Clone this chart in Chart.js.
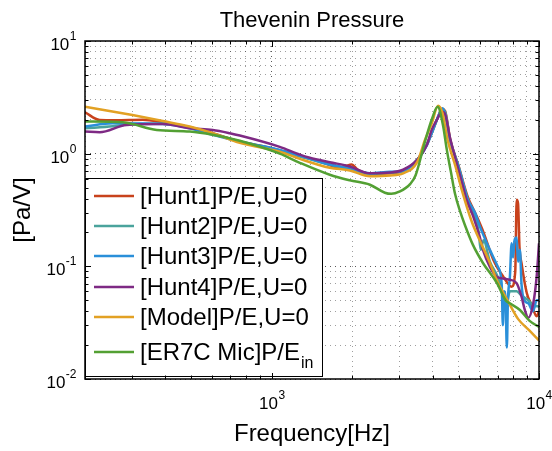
<!DOCTYPE html>
<html>
<head>
<meta charset="utf-8">
<script src="https://cdn.jsdelivr.net/npm/chart.js@4/dist/chart.umd.min.js"></script>
<style>
  html, body { margin: 0; padding: 0; background: #fff; }
  canvas { display: block; }
</style>
</head>
<body>
<canvas id="chart" width="552" height="451"></canvas>
<script>
// values (Hz, Pa/V)
const hunt1Freq = [200, 227, 260, 329, 391, 493, 601, 759, 900, 1071, 1273, 1500, 1800, 1900, 1990, 2100, 2330, 2770, 3100, 3500, 3800, 4000, 4200, 4330, 4450, 4650, 5000, 5400, 5800, 6200, 6750, 7350, 7900, 8150, 8250, 8350, 8450, 8600, 9000, 9400, 9800, 10000];
const hunt1Vals = [2.33, 1.99, 1.98, 2.0, 1.9, 1.72, 1.52, 1.28, 1.18, 1.07, 0.95, 0.86, 0.75, 0.78, 0.80, 0.72, 0.66, 0.67, 0.70, 0.88, 1.2, 1.6, 2.15, 2.5, 2.4, 1.35, 0.78, 0.42, 0.29, 0.20, 0.114, 0.081, 0.066, 0.09, 0.39, 0.36, 0.15, 0.107, 0.058, 0.045, 0.036, 0.04];

const hunt2Freq = [200, 254, 301, 391, 493, 601, 759, 1071, 1273, 1648, 1959, 2330, 2770, 3100, 3500, 3800, 4000, 4200, 4330, 4450, 4650, 5000, 5400, 5756, 5950, 6050, 6200, 6550, 7015, 7350, 7500, 7780, 8245, 8600, 9120, 9500, 10000];
const hunt2Vals = [1.68, 1.75, 1.83, 1.85, 1.70, 1.50, 1.28, 1.07, 0.95, 0.80, 0.73, 0.66, 0.68, 0.70, 0.88, 1.2, 1.6, 2.15, 2.45, 2.35, 1.32, 0.77, 0.40, 0.28, 0.20, 0.14, 0.17, 0.11, 0.08, 0.055, 0.042, 0.06, 0.06, 0.055, 0.05, 0.045, 0.044];

const hunt3Freq = [200, 254, 391, 493, 601, 759, 1071, 1273, 1648, 1959, 2330, 2770, 3100, 3500, 3800, 4000, 4200, 4360, 4645, 4990, 5285, 5420, 5756, 6010, 6550, 7015, 7250, 7325, 7400, 7500, 7580, 7650, 7780, 7900, 8000, 8100, 8245, 8350, 8485, 8600, 8800, 9120, 9500, 9800, 10000];
const hunt3Vals = [1.74, 1.86, 1.83, 1.68, 1.47, 1.28, 1.08, 0.96, 0.80, 0.74, 0.67, 0.69, 0.70, 0.88, 1.18, 1.6, 2.15, 2.53, 1.32, 0.77, 0.47, 0.388, 0.30, 0.225, 0.14, 0.099, 0.07, 0.03, 0.06, 0.05, 0.019, 0.05, 0.08, 0.16, 0.12, 0.17, 0.18, 0.11, 0.14, 0.07, 0.05, 0.047, 0.04, 0.05, 0.05];

const hunt4Freq = [200, 227, 286, 391, 493, 601, 696, 759, 1071, 1273, 1388, 1648, 1959, 2330, 2770, 3100, 3500, 3808, 3963, 4150, 4330, 4450, 4640, 4900, 5150, 5360, 5680, 6010, 6170, 6550, 6940, 7350, 7780, 8245, 8600, 8850, 9120, 9520, 9800, 10000];
const hunt4Vals = [1.57, 1.55, 1.80, 1.83, 1.68, 1.62, 1.52, 1.45, 1.15, 0.98, 0.92, 0.84, 0.77, 0.67, 0.68, 0.72, 0.88, 1.2, 1.62, 2.0, 2.36, 2.25, 1.4, 0.85, 0.55, 0.388, 0.275, 0.18, 0.14, 0.099, 0.081, 0.078, 0.076, 0.071, 0.054, 0.041, 0.035, 0.047, 0.081, 0.16];

const modelFreq = [200, 301, 391, 493, 601, 759, 1071, 1273, 1648, 1959, 2330, 2770, 3100, 3500, 3740, 3970, 4190, 4350, 4550, 4870, 5150, 5600, 6000, 6480, 7030, 7620, 8360, 9200, 10000];
const modelVals = [2.61, 2.2, 1.95, 1.74, 1.52, 1.25, 1.04, 0.90, 0.75, 0.71, 0.63, 0.64, 0.67, 0.84, 1.32, 1.86, 2.66, 2.3, 1.32, 0.77, 0.47, 0.25, 0.17, 0.114, 0.071, 0.05, 0.034, 0.027, 0.022];

const micFreq = [200, 277, 371, 493, 601, 759, 1071, 1273, 1648, 1959, 2330, 2650, 2800, 3000, 3300, 3450, 3750, 3963, 4176, 4370, 4520, 4680, 4850, 5060, 5280, 5660, 6170, 6960, 7500, 7780, 8485, 9200, 10000];
const micVals = [1.93, 1.9, 1.62, 1.57, 1.47, 1.30, 1.0, 0.83, 0.65, 0.58, 0.53, 0.45, 0.44, 0.46, 0.54, 0.64, 1.3, 1.99, 2.61, 1.8, 1.08, 0.69, 0.44, 0.31, 0.233, 0.155, 0.107, 0.071, 0.05, 0.047, 0.041, 0.033, 0.029];

const seriesNames = ['[Hunt1]P/E,U=0', '[Hunt2]P/E,U=0', '[Hunt3]P/E,U=0', '[Hunt4]P/E,U=0', '[Model]P/E,U=0', '[ER7C Mic]P/E'];
const seriesColors = ['#c8421c', '#4aa39c', '#2a8fd9', '#7e2a84', '#e2a124', '#53a033'];

const xGrid = [200, 300, 400, 500, 600, 700, 800, 900, 1000, 2000, 3000, 4000, 5000, 6000, 7000, 8000, 9000, 10000];
const yGrid = [0.01, 0.02, 0.03, 0.04, 0.05, 0.06, 0.07, 0.08, 0.09, 0.1, 0.2, 0.3, 0.4, 0.5, 0.6, 0.7, 0.8, 0.9, 1, 2, 3, 4, 5, 6, 7, 8, 9, 10];
const xLabelPowers = [3, 4];
const yLabelPowers = [1, 0, -1, -2];

const pts = (fs, vs) => fs.map((f, i) => ({ x: f, y: vs[i] }));
const allData = [
  pts(hunt1Freq, hunt1Vals),
  pts(hunt2Freq, hunt2Vals),
  pts(hunt3Freq, hunt3Vals),
  pts(hunt4Freq, hunt4Vals),
  pts(modelFreq, modelVals),
  pts(micFreq, micVals),
];

const isMajor = v => Math.abs(Math.log10(v) - Math.round(Math.log10(v))) < 1e-9;
const FONT = '"Liberation Sans", Arial, Helvetica, sans-serif';

function drawPow(ctx, exp, x, baseY, align) {
  const base = '10', sup = String(exp);
  ctx.font = '17px ' + FONT;
  const wb = ctx.measureText(base).width;
  ctx.font = '12px ' + FONT;
  const ws = ctx.measureText(sup).width;
  const total = wb + ws;
  const x0 = align === 'right' ? x - total : x - total / 2;
  ctx.textAlign = 'left';
  ctx.textBaseline = 'alphabetic';
  ctx.font = '17px ' + FONT;
  ctx.fillText(base, x0, baseY);
  ctx.font = '12px ' + FONT;
  ctx.fillText(sup, x0 + wb + 0.5, baseY - 10);
}

const decor = {
  id: 'decor',
  afterDatasetsDraw(chart) {
    const { ctx, chartArea: a, scales: { x, y } } = chart;
    ctx.save();

    // legend box
    const lx = a.left, ly = 178, lw = 237, lh = 198;
    ctx.fillStyle = '#fff';
    ctx.fillRect(lx, ly, lw, lh);
    ctx.strokeStyle = '#000';
    ctx.lineWidth = 1;
    ctx.strokeRect(lx + 0.5, ly + 0.5, lw, lh);
    const rows = [196, 226, 256, 287, 317, 352];
    seriesNames.forEach((name, i) => {
      ctx.strokeStyle = seriesColors[i];
      ctx.lineWidth = 2.5;
      ctx.beginPath();
      ctx.moveTo(94, rows[i]);
      ctx.lineTo(134, rows[i]);
      ctx.stroke();
      ctx.fillStyle = '#000';
      ctx.font = '24px ' + FONT;
      ctx.textAlign = 'left';
      ctx.textBaseline = 'middle';
      ctx.fillText(name, 140, rows[i] + 1);
      if (i === 5) {
        const w = ctx.measureText(name).width;
        ctx.font = '16px ' + FONT;
        ctx.fillText('in', 140 + w + 1, rows[i] + 12);
      }
    });

    // tick marks inside the box
    ctx.strokeStyle = '#000';
    ctx.lineWidth = 1;
    ctx.beginPath();
    xGrid.forEach(v => {
      const px = Math.round(x.getPixelForValue(v)) + 0.5;
      const len = isMajor(v) ? 6 : 3.5;
      ctx.moveTo(px, a.bottom); ctx.lineTo(px, a.bottom - len);
      ctx.moveTo(px, a.top); ctx.lineTo(px, a.top + len);
    });
    yGrid.forEach(v => {
      const py = Math.round(y.getPixelForValue(v)) + 0.5;
      const len = isMajor(v) ? 6 : 3.5;
      ctx.moveTo(a.left, py); ctx.lineTo(a.left + len, py);
      ctx.moveTo(a.right, py); ctx.lineTo(a.right - len, py);
    });
    ctx.stroke();

    // axes box
    ctx.lineWidth = 1.5;
    ctx.strokeRect(a.left, a.top, a.right - a.left, a.bottom - a.top);

    // tick labels
    ctx.fillStyle = '#000';
    xLabelPowers.forEach(p => drawPow(ctx, p, x.getPixelForValue(Math.pow(10, p)), a.bottom + 30, 'center'));
    yLabelPowers.forEach(p => drawPow(ctx, p, 76, y.getPixelForValue(Math.pow(10, p)) + 9, 'right'));

    // title and axis titles
    ctx.textAlign = 'center';
    ctx.textBaseline = 'alphabetic';
    ctx.font = '22px ' + FONT;
    ctx.fillText('Thevenin Pressure', (a.left + a.right) / 2, 27);
    ctx.font = '24px ' + FONT;
    ctx.fillText('Frequency[Hz]', (a.left + a.right) / 2, 441);
    ctx.save();
    ctx.translate(30, (a.top + a.bottom) / 2);
    ctx.rotate(-Math.PI / 2);
    ctx.fillText('[Pa/V]', 0, 0);
    ctx.restore();

    ctx.restore();
  }
};

const gridColor = c => isMajor(c.tick.value) ? 'rgba(0,0,0,0.65)' : 'rgba(0,0,0,0.38)';

new Chart(document.getElementById('chart').getContext('2d'), {
  type: 'line',
  data: {
    datasets: allData.map((d, i) => ({
      label: seriesNames[i],
      data: d,
      borderColor: seriesColors[i],
      borderWidth: 2.5,
      pointRadius: 0,
      fill: false,
      cubicInterpolationMode: 'monotone',
      order: 6 - i,
    })),
  },
  options: {
    responsive: false,
    devicePixelRatio: 1,
    animation: false,
    layout: { padding: { top: 41, right: 13, left: 0, bottom: 0 } },
    plugins: {
      legend: { display: false },
      title: { display: false },
      tooltip: { enabled: false },
    },
    scales: {
      x: {
        type: 'logarithmic',
        min: 200,
        max: 10000,
        afterBuildTicks: s => { s.ticks = xGrid.map(v => ({ value: v })); },
        afterFit: s => { s.height = 72; },
        ticks: { display: false },
        grid: { color: gridColor, lineWidth: 1, drawTicks: false },
        border: { display: false, dash: [1, 4] },
      },
      y: {
        type: 'logarithmic',
        min: 0.01,
        max: 10,
        afterBuildTicks: s => { s.ticks = yGrid.map(v => ({ value: v })); },
        afterFit: s => { s.width = 85; },
        ticks: { display: false },
        grid: { color: gridColor, lineWidth: 1, drawTicks: false },
        border: { display: false, dash: [1, 4] },
      },
    },
  },
  plugins: [decor],
});
</script>
</body>
</html>
